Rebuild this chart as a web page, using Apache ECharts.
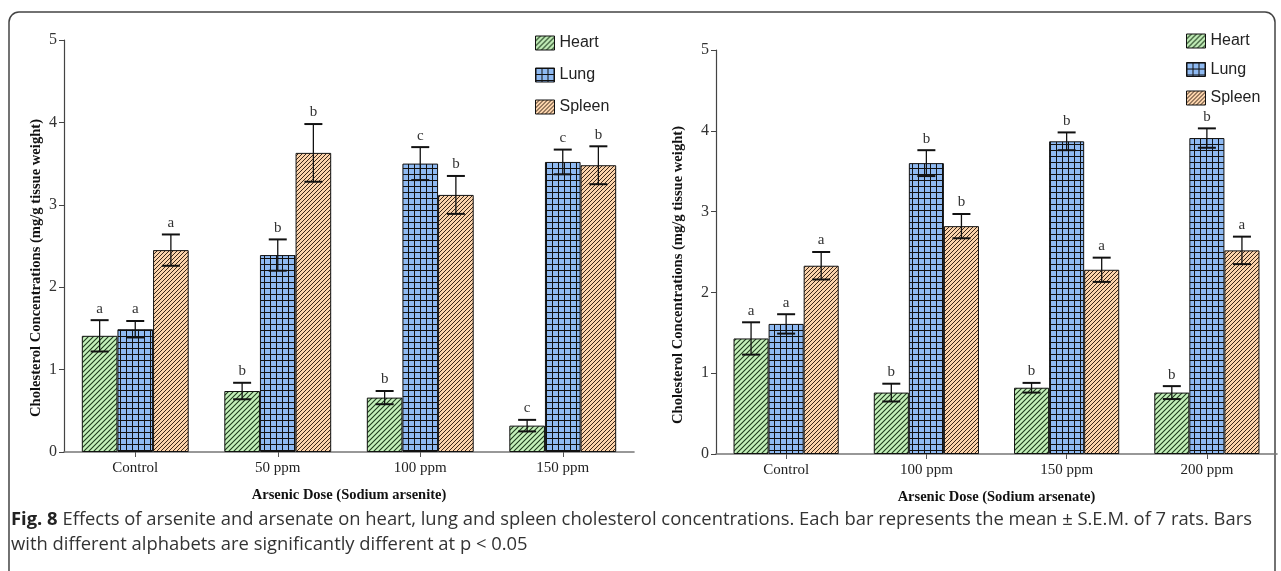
<!DOCTYPE html>
<html><head><meta charset="utf-8">
<script src="https://cdn.jsdelivr.net/npm/echarts@6/dist/echarts.min.js"></script>
<style>html,body{margin:0;padding:0;background:#fff}#c{width:1281px;height:571px}</style>
</head><body><div id="c"></div>
<script>
// ---------- data ----------
const yTicks = [0, 1, 2, 3, 4, 5];
const categoriesA = ['Control', '50 ppm', '100 ppm', '150 ppm'];
const heartA = [1.41, 0.74, 0.66, 0.32];
const heartSemA = [0.19, 0.10, 0.08, 0.07];
const heartSigA = ['a', 'b', 'b', 'c'];
const lungA = [1.49, 2.39, 3.50, 3.52];
const lungSemA = [0.10, 0.19, 0.20, 0.15];
const lungSigA = ['a', 'b', 'c', 'c'];
const spleenA = [2.45, 3.63, 3.12, 3.48];
const spleenSemA = [0.19, 0.35, 0.23, 0.23];
const spleenSigA = ['a', 'b', 'b', 'b'];

const categoriesB = ['Control', '100 ppm', '150 ppm', '200 ppm'];
const heartB = [1.43, 0.76, 0.82, 0.76];
const heartSemB = [0.20, 0.11, 0.06, 0.08];
const heartSigB = ['a', 'b', 'b', 'b'];
const lungB = [1.61, 3.60, 3.87, 3.91];
const lungSemB = [0.12, 0.16, 0.11, 0.12];
const lungSigB = ['a', 'b', 'b', 'b'];
const spleenB = [2.33, 2.82, 2.28, 2.52];
const spleenSemB = [0.17, 0.15, 0.15, 0.17];
const spleenSigB = ['a', 'b', 'a', 'a'];

const seriesNames = ['Heart', 'Lung', 'Spleen'];
const xTitleA = 'Arsenic Dose (Sodium arsenite)';
const xTitleB = 'Arsenic Dose (Sodium arsenate)';
const yTitle = 'Cholesterol Concentrations (mg/g tissue weight)';
const captionBold = 'Fig. 8';
const captionLine1 = ' Effects of arsenite and arsenate on heart, lung and spleen cholesterol concentrations. Each bar represents the mean ± S.E.M. of 7 rats. Bars';
const captionLine2 = 'with different alphabets are significantly different at p < 0.05';

// ---------- patterns ----------
function makePattern(size, bg, draw) {
  const c = document.createElement('canvas');
  c.width = c.height = size;
  const ctx = c.getContext('2d');
  ctx.fillStyle = bg; ctx.fillRect(0, 0, size, size);
  draw(ctx, size);
  return { image: c, repeat: 'repeat' };
}
function diag(ctx, s, color, w) {
  ctx.strokeStyle = color; ctx.lineWidth = w;
  ctx.beginPath();
  ctx.moveTo(-1, s + 1); ctx.lineTo(s + 1, -1);
  ctx.moveTo(-1, 1); ctx.lineTo(1, -1);
  ctx.moveTo(s - 1, s + 1); ctx.lineTo(s + 1, s - 1);
  ctx.stroke();
}
const heartFill = makePattern(5, '#c4f0ba', (ctx, s) => diag(ctx, s, '#1e3a1c', 1.1));
const lungFill = makePattern(6, '#8fbaf2', (ctx, s) => { ctx.fillStyle = '#111'; ctx.fillRect(0, 0, s, 1); ctx.fillRect(0, 0, 1, s); });
const spleenFill = makePattern(4, '#fbd3ab', (ctx, s) => diag(ctx, s, '#3a2618', 1.0));
const fills = [heartFill, lungFill, spleenFill];

// ---------- helpers ----------
const serif = '"Liberation Serif", "Times New Roman", serif';
function barSeries(name, data, gi, fi) {
  return {
    name: name, type: 'bar', xAxisIndex: gi, yAxisIndex: gi, data: data,
    barGap: '0%', barCategoryGap: '25%',
    itemStyle: { color: fills[fi], borderColor: '#111', borderWidth: 1 },
    emphasis: { disabled: true }
  };
}
function errSeries(name, vals, sems, sigs, gi, idx) {
  return {
    name: name, type: 'custom', xAxisIndex: gi, yAxisIndex: gi, z: 10,
    data: vals.map((v, i) => [i, v, sems[i], sigs[i]]),
    renderItem: function (params, api) {
      const ci = api.value(0), v = api.value(1), s = api.value(2);
      const sig = sigs[params.dataIndex];
      const c = api.coord([ci, v]);
      const band = api.size([1, 0])[0];
      const x = c[0] + (idx - 1) * band * 0.25;
      const top = api.coord([ci, v + s])[1];
      const bot = api.coord([ci, v - s])[1];
      const h = 9;
      return {
        type: 'group', children: [
          { type: 'line', shape: { x1: x, y1: top, x2: x, y2: bot }, style: { stroke: '#111', lineWidth: 1.3 } },
          { type: 'line', shape: { x1: x - h, y1: top, x2: x + h, y2: top }, style: { stroke: '#111', lineWidth: 2 } },
          { type: 'line', shape: { x1: x - h, y1: bot, x2: x + h, y2: bot }, style: { stroke: '#111', lineWidth: 2 } },
          { type: 'text', style: { text: sig, x: x, y: top - 4, textAlign: 'center', textVerticalAlign: 'bottom', font: '15px ' + serif, fill: '#333' } }
        ]
      };
    }
  };
}
function yAxis(gi) {
  return {
    gridIndex: gi, type: 'value', min: 0, max: 5, interval: 1,
    axisLine: { show: true, lineStyle: { color: '#444', width: 1.2 } },
    axisTick: { show: true, length: 5, lineStyle: { color: '#444' } },
    splitLine: { show: false },
    axisLabel: { color: '#333', fontFamily: serif, fontSize: 16, margin: 7, formatter: v => yTicks.includes(v) ? String(v) : '' }
  };
}
function xAxis(gi, cats, title) {
  return {
    gridIndex: gi, type: 'category', data: cats,
    axisLine: { show: true, lineStyle: { color: '#777', width: 1.6 } },
    axisTick: { show: true, alignWithLabel: true, length: 5, lineStyle: { color: '#555' } },
    axisLabel: { color: '#222', fontFamily: serif, fontSize: 15, margin: 9 },
    name: title, nameLocation: 'middle', nameGap: 36,
    nameTextStyle: { color: '#111', fontFamily: serif, fontSize: 14.5, fontWeight: 'bold' }
  };
}
const legendText = { fontFamily: '"Liberation Sans", Arial, sans-serif', fontSize: 16, color: '#222' };

const chart = echarts.init(document.getElementById('c'), null, { renderer: 'canvas' });
chart.setOption({
  animation: false,
  backgroundColor: '#fff',
  grid: [
    { left: 64, right: 1281 - 634, top: 40, bottom: 571 - 452 },
    { left: 716, right: 4, top: 50, bottom: 571 - 454 }
  ],
  xAxis: [xAxis(0, categoriesA, xTitleA), xAxis(1, categoriesB, xTitleB)],
  yAxis: [yAxis(0), yAxis(1)],
  legend: [
    { data: seriesNames, orient: 'vertical', left: 530, top: 30, icon: 'rect', itemWidth: 19, itemHeight: 14, itemGap: 16, selectedMode: false,
      textStyle: legendText, itemStyle: { borderColor: '#111', borderWidth: 1 } },
    { data: seriesNames, orient: 'vertical', left: 1181, top: 28, icon: 'rect', itemWidth: 19, itemHeight: 14, itemGap: 12.5, selectedMode: false,
      textStyle: legendText, itemStyle: { borderColor: '#111', borderWidth: 1 } }
  ],
  graphic: [
    { type: 'rect', shape: { x: 9, y: 12, width: 1266, height: 580, r: 10 }, style: { fill: 'none', stroke: '#444', lineWidth: 1.5 }, silent: true },
    { type: 'text', x: 36, y: 268, rotation: Math.PI / 2, style: { text: yTitle, textAlign: 'center', textVerticalAlign: 'middle', font: 'bold 14.6px ' + serif, fill: '#111' } },
    { type: 'text', x: 678, y: 275, rotation: Math.PI / 2, style: { text: yTitle, textAlign: 'center', textVerticalAlign: 'middle', font: 'bold 14.6px ' + serif, fill: '#111' } },
    { type: 'text', x: 11, y: 520, style: { rich: { b: { fontFamily: '"Open Sans", sans-serif', fontWeight: 'bold', fontSize: 18.4, fill: '#222' }, n: { fontFamily: '"Open Sans", sans-serif', fontSize: 18.4, fill: '#333' } }, text: '{b|' + captionBold + '}{n|' + captionLine1 + '}', textVerticalAlign: 'middle' } },
    { type: 'text', x: 11, y: 545, style: { text: captionLine2, font: '18.4px "Open Sans", sans-serif', fill: '#333', textVerticalAlign: 'middle' } }
  ],
  series: [
    barSeries('Heart', heartA, 0, 0), barSeries('Lung', lungA, 0, 1), barSeries('Spleen', spleenA, 0, 2),
    barSeries('Heart', heartB, 1, 0), barSeries('Lung', lungB, 1, 1), barSeries('Spleen', spleenB, 1, 2),
    errSeries('Heart', heartA, heartSemA, heartSigA, 0, 0), errSeries('Lung', lungA, lungSemA, lungSigA, 0, 1), errSeries('Spleen', spleenA, spleenSemA, spleenSigA, 0, 2),
    errSeries('Heart', heartB, heartSemB, heartSigB, 1, 0), errSeries('Lung', lungB, lungSemB, lungSigB, 1, 1), errSeries('Spleen', spleenB, spleenSemB, spleenSigB, 1, 2)
  ]
});
</script></body></html>
